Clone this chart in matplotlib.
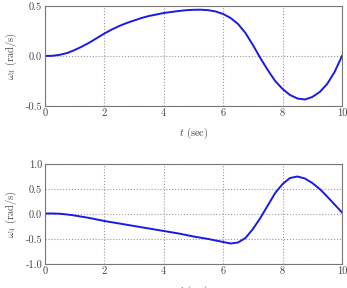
import matplotlib
matplotlib.use("Agg")
import matplotlib.pyplot as plt

plt.rcParams['mathtext.fontset'] = 'cm'
plt.rcParams['font.family'] = ['cmr10', 'DejaVu Serif']
plt.rcParams['axes.formatter.use_mathtext'] = True

t3 = [0, 0.25, 0.5, 0.75, 1, 1.25, 1.5, 1.75, 2, 2.25, 2.5, 2.75, 3, 3.25, 3.5, 3.75, 4, 4.25, 4.5, 4.75,
      5, 5.25, 5.5, 5.75, 6, 6.25, 6.5, 6.75, 7, 7.25, 7.5, 7.75, 8, 8.25, 8.5, 8.75, 9, 9.25, 9.5, 9.75, 10]
w3 = [0, 0.002, 0.012, 0.03, 0.06, 0.095, 0.135, 0.18, 0.225, 0.265, 0.30, 0.33, 0.355, 0.38, 0.40, 0.415,
      0.43, 0.44, 0.45, 0.458, 0.462, 0.463, 0.458, 0.445, 0.42, 0.38, 0.32, 0.23, 0.11, -0.02, -0.14, -0.25,
      -0.33, -0.39, -0.425, -0.435, -0.41, -0.36, -0.28, -0.16, 0.0]

t4 = [0, 0.25, 0.5, 0.75, 1, 1.5, 2, 2.5, 3, 3.5, 4, 4.5, 5, 5.5, 5.75, 6, 6.25, 6.5, 6.75, 7, 7.25,
      7.5, 7.75, 8, 8.25, 8.5, 8.75, 9, 9.25, 9.5, 9.75, 10]
w4 = [0.01, 0.01, 0.005, -0.01, -0.03, -0.08, -0.14, -0.19, -0.24, -0.29, -0.34, -0.39, -0.45, -0.50, -0.53,
      -0.56, -0.59, -0.57, -0.48, -0.30, -0.08, 0.17, 0.42, 0.60, 0.72, 0.75, 0.71, 0.62, 0.50, 0.35, 0.19, 0.03]

xticks = [0, 2, 4, 6, 8, 10]
yticks3 = [-0.5, 0.0, 0.5]
ylabels3 = ['-0.5', '0.0', '0.5']
yticks4 = [-1.0, -0.5, 0.0, 0.5, 1.0]
ylabels4 = ['-1.0', '-0.5', '0.0', '0.5', '1.0']

fig = plt.figure(figsize=(3.47, 2.88), dpi=100)
W, H = 347, 288
ax1 = fig.add_axes([45 / W, 1 - 106 / H, 297 / W, 100 / H])
ax2 = fig.add_axes([45 / W, 1 - 264 / H, 297 / W, 100 / H])

gray = '#444444'
fs = 7.5
for ax, t, w, yt, yl, lab in [(ax1, t3, w3, yticks3, ylabels3, r'$\omega_3$ (rad/s)'),
                              (ax2, t4, w4, yticks4, ylabels4, r'$\omega_4$ (rad/s)')]:
    ax.plot(t, w, color='#1a1ae6', lw=1.4)
    ax.set_xlim(0, 10)
    ax.set_ylim(yt[0], yt[-1])
    ax.set_xticks(xticks)
    ax.set_xticklabels([str(x) for x in xticks], fontsize=fs, color=gray)
    ax.set_yticks(yt)
    ax.set_yticklabels(yl, fontsize=fs, color=gray)
    ax.grid(True, linestyle=':', color='#999999', lw=0.8)
    ax.tick_params(length=0, pad=2)
    for s in ax.spines.values():
        s.set_color('#777777')
        s.set_linewidth(0.8)
    ax.set_xlabel(r'$t$ (sec)', fontsize=fs, color=gray, labelpad=5)
    ax.set_ylabel(lab, fontsize=fs, color=gray, labelpad=5)

fig.savefig('out.png', dpi=100)
